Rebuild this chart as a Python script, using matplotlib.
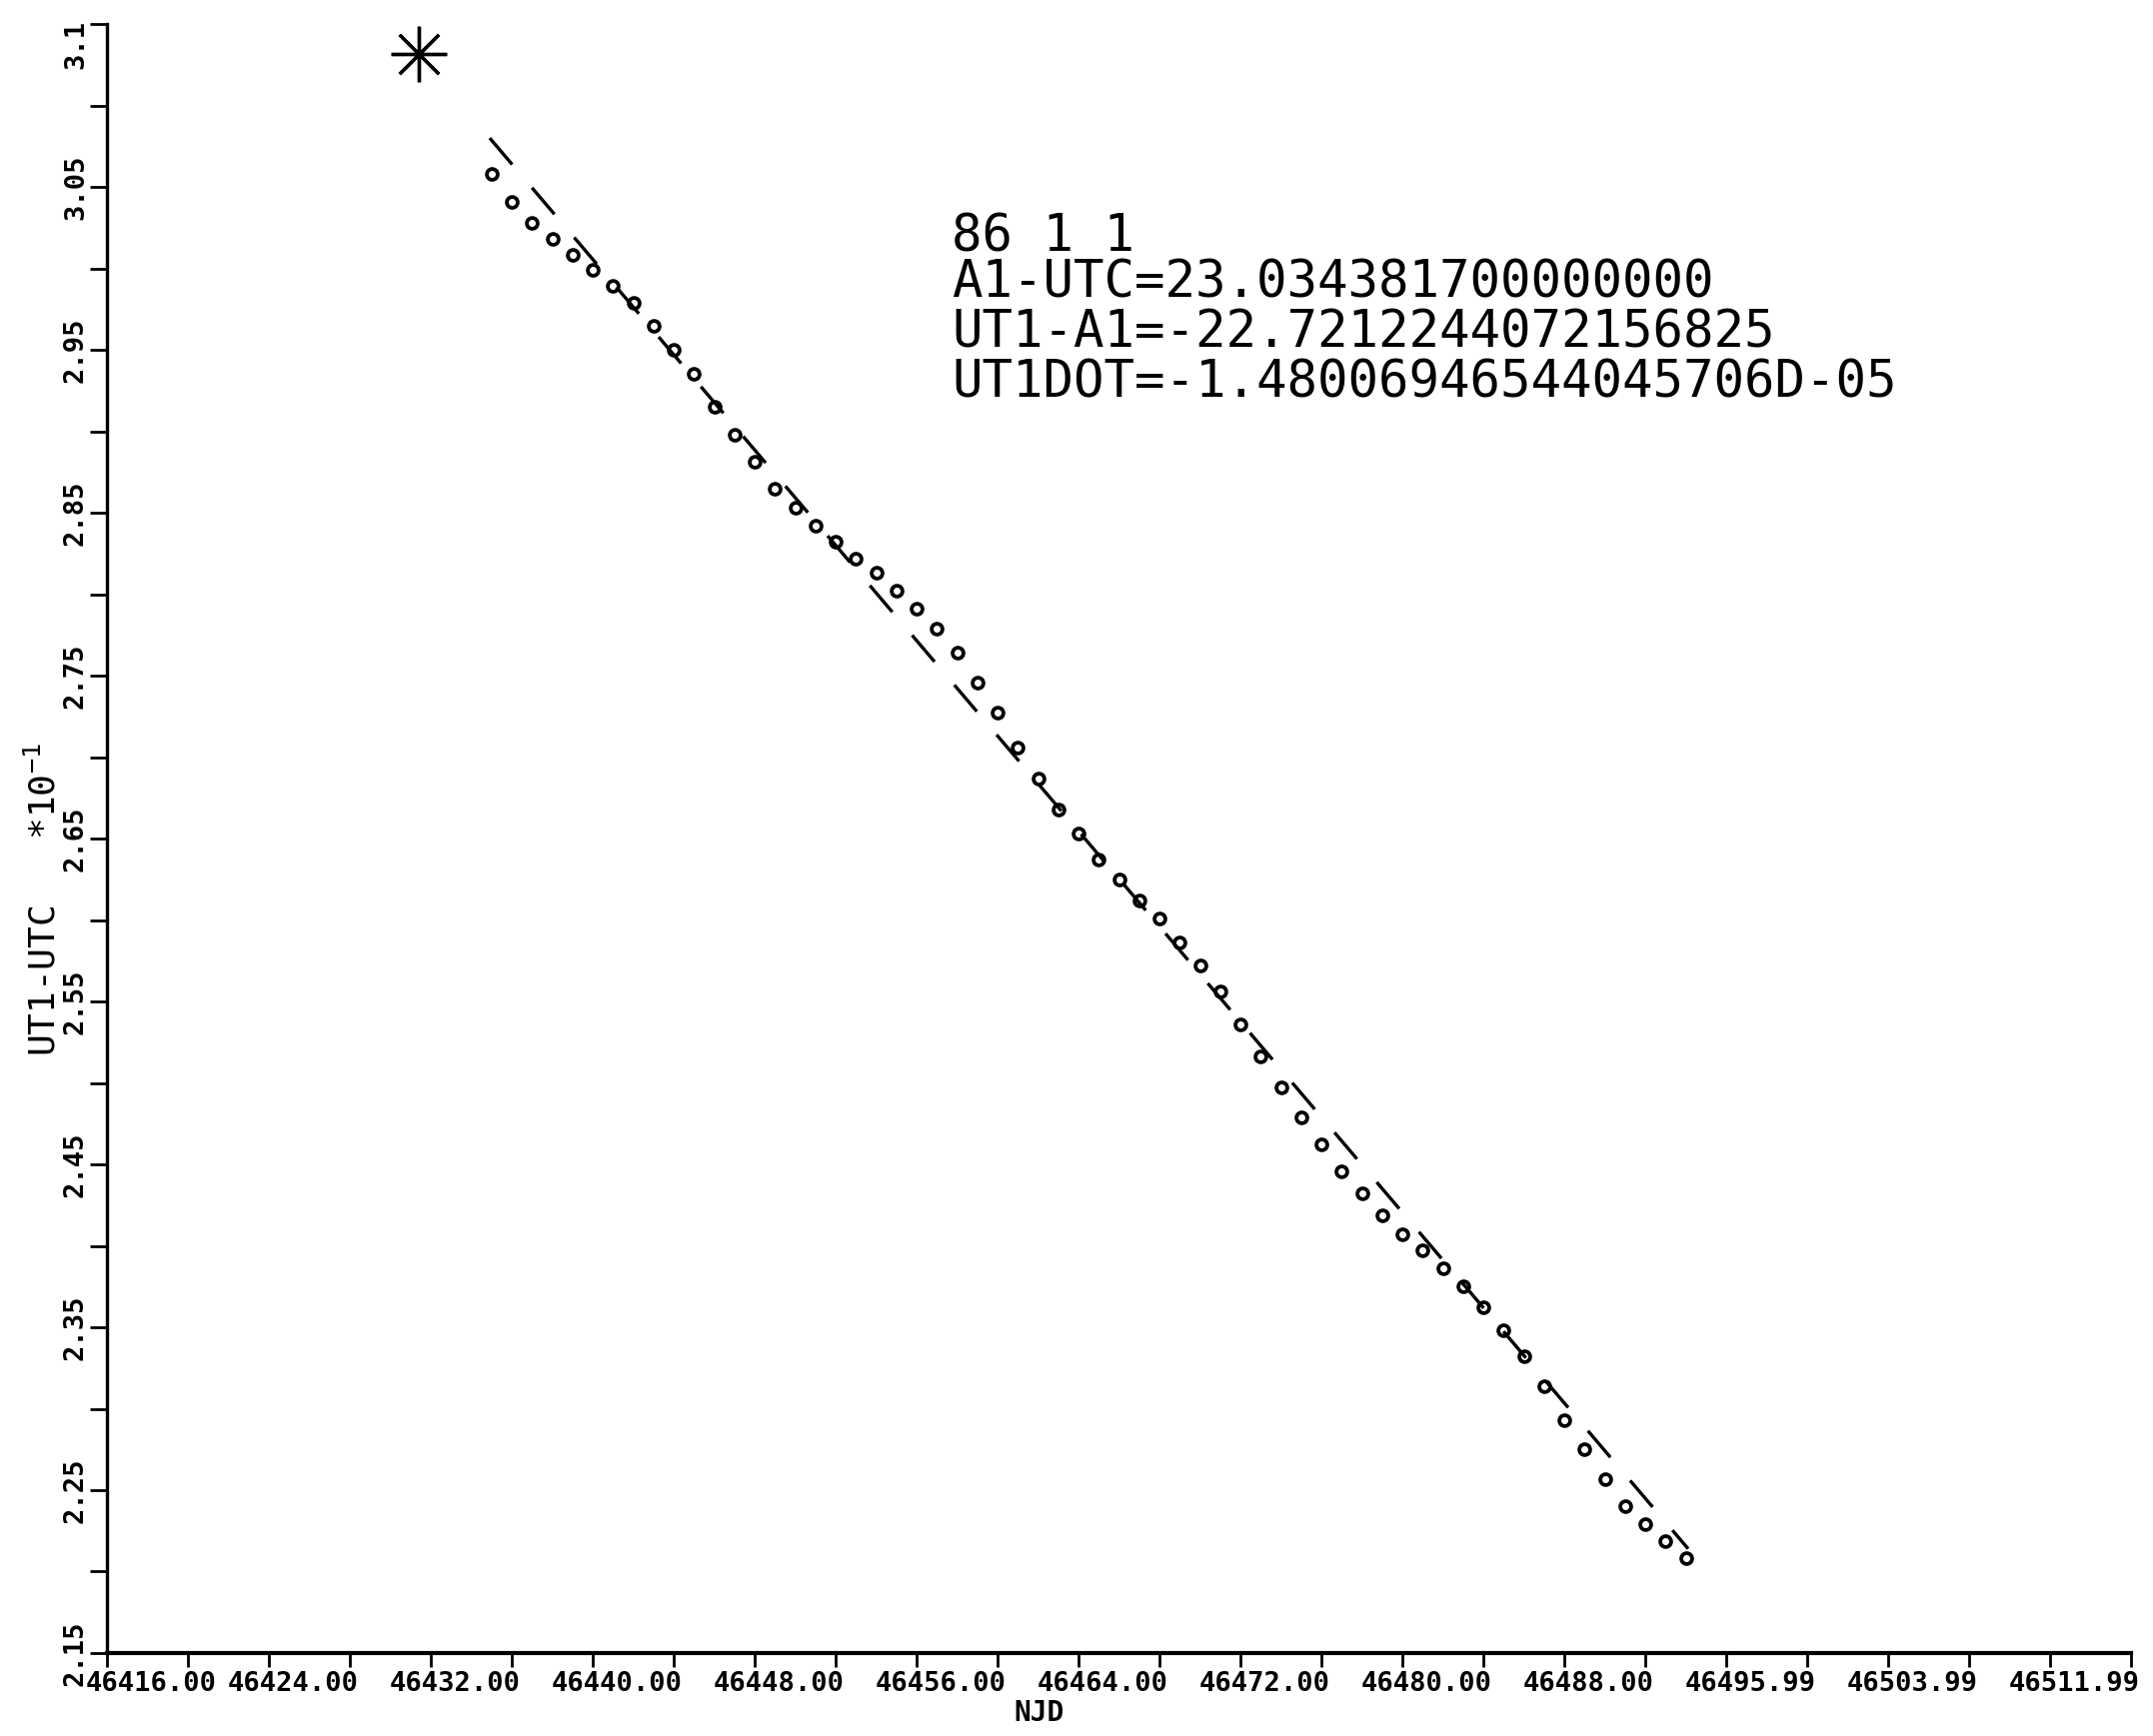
import matplotlib
matplotlib.use("Agg")
import matplotlib.pyplot as plt
import matplotlib.transforms as mtransforms
from matplotlib.ticker import FixedLocator, FixedFormatter, NullFormatter

# ---------------- data ----------------
mjd = [46435, 46436, 46437, 46438, 46439, 46440, 46441, 46442, 46443, 46444,
       46445, 46446, 46447, 46448, 46449, 46450, 46451, 46452, 46453, 46454,
       46455, 46456, 46457, 46458, 46459, 46460, 46461, 46462, 46463, 46464,
       46465, 46466, 46467, 46468, 46469, 46470, 46471, 46472, 46473, 46474,
       46475, 46476, 46477, 46478, 46479, 46480, 46481, 46482, 46483, 46484,
       46485, 46486, 46487, 46488, 46489, 46490, 46491, 46492, 46493, 46494]
ut1_utc = [3.058, 3.041, 3.028, 3.018, 3.008, 2.999, 2.989, 2.979, 2.965, 2.950,
           2.935, 2.915, 2.898, 2.881, 2.865, 2.853, 2.842, 2.832, 2.822, 2.813,
           2.802, 2.791, 2.779, 2.764, 2.746, 2.727, 2.706, 2.687, 2.668, 2.653,
           2.637, 2.625, 2.612, 2.601, 2.586, 2.572, 2.556, 2.536, 2.516, 2.497,
           2.479, 2.462, 2.446, 2.432, 2.419, 2.407, 2.397, 2.386, 2.375, 2.362,
           2.348, 2.332, 2.314, 2.293, 2.275, 2.257, 2.240, 2.229, 2.219, 2.208]

fit_mjd = [46434.91, 46494.12]
fit_val = [3.080, 2.214]

epoch_mjd = [46431.4]
epoch_val = [3.1316]

x_major = [46416, 46424, 46432, 46440, 46448, 46456, 46464,
           46472, 46480, 46488, 46496, 46504, 46512]
x_major_labels = ["46416.00", "46424.00", "46432.00", "46440.00", "46448.00",
                  "46456.00", "46464.00", "46472.00", "46480.00", "46488.00",
                  "46495.99", "46503.99", "46511.99"]
x_minor = [46420, 46428, 46436, 46444, 46452, 46460, 46468,
           46476, 46484, 46492, 46500, 46508, 46516]

y_major = [2.15, 2.25, 2.35, 2.45, 2.55, 2.65, 2.75, 2.85, 2.95, 3.05, 3.15]
y_major_labels = ["2.15", "2.25", "2.35", "2.45", "2.55", "2.65",
                  "2.75", "2.85", "2.95", "3.05", "3.1"]
y_minor = [2.20, 2.30, 2.40, 2.50, 2.60, 2.70, 2.80, 2.90, 3.00, 3.10]

x_range = [46416, 46516]
y_range = [2.15, 3.15]

annotation_lines = ["86 1 1",
                    "A1-UTC=23.034381700000000",
                    "UT1-A1=-22.7212244072156825",
                    "UT1DOT=-1.48006946544045706D-05"]
x_title = "NJD"
y_title = "UT1-UTC   *10$^{-1}$"

# ---------------- style ----------------
plt.rcParams["lines.scale_dashes"] = False
plt.rcParams["mathtext.fontset"] = "custom"
plt.rcParams["mathtext.rm"] = "DejaVu Sans Mono"
plt.rcParams["mathtext.default"] = "rm"

W, H, DPI = 2154, 1737, 100
fig = plt.figure(figsize=(W / DPI, H / DPI), dpi=DPI, facecolor="white")

L, R, T, B = 107, 2132, 24, 1654   # axes box in pixels
ax = fig.add_axes([L / W, 1 - B / H, (R - L) / W, (B - T) / H])
ax.set_facecolor("white")

ax.plot(fit_mjd, fit_val, color="black", lw=2.4,
        linestyle=(0, (25, 22)), solid_capstyle="butt", dash_capstyle="butt",
        zorder=2)
ax.plot(mjd, ut1_utc, linestyle="none", marker="o", ms=7.8,
        mfc="none", mec="black", mew=2.7, zorder=3)
ax.plot(epoch_mjd, epoch_val, linestyle="none", marker=(8, 2, 0), ms=40,
        mec="black", mew=2.4, zorder=3)

ax.set_xlim(*x_range)
ax.set_ylim(*y_range)

for s in ["top", "right"]:
    ax.spines[s].set_visible(False)
ax.spines["left"].set_linewidth(2.4)
ax.spines["bottom"].set_linewidth(3.0)

ax.xaxis.set_major_locator(FixedLocator(x_major))
ax.xaxis.set_major_formatter(FixedFormatter(x_major_labels))
ax.xaxis.set_minor_locator(FixedLocator(x_minor))
ax.xaxis.set_minor_formatter(NullFormatter())
ax.yaxis.set_major_locator(FixedLocator(y_major))
ax.yaxis.set_major_formatter(FixedFormatter(y_major_labels))
ax.yaxis.set_minor_locator(FixedLocator(y_minor))
ax.yaxis.set_minor_formatter(NullFormatter())

ax.tick_params(axis="x", which="both", direction="out", length=10, width=2.0,
               pad=3, color="black")
ax.tick_params(axis="y", which="both", direction="out", length=12, width=2.0,
               pad=1, color="black")

tick_font = dict(family="DejaVu Sans Mono", weight="bold", size=19.5)
for lab in ax.get_xticklabels():
    lab.set_fontproperties(matplotlib.font_manager.FontProperties(**tick_font))
for lab in ax.get_yticklabels():
    lab.set_fontproperties(matplotlib.font_manager.FontProperties(**tick_font))
    lab.set_rotation(90)
    lab.set_va("center")

# plotter-style label placement
for i, lab in enumerate(ax.get_xticklabels()):
    dx = 0.44 if i == 0 else 0.24
    lab.set_transform(lab.get_transform() +
                      mtransforms.ScaledTranslation(dx, 0, fig.dpi_scale_trans))
ylabs = ax.get_yticklabels()
ylabs[-1].set_transform(ylabs[-1].get_transform() +
                        mtransforms.ScaledTranslation(0, -0.2, fig.dpi_scale_trans))

# axis titles
fig.text(1040 / W, 1 - 1714 / H, x_title, ha="center", va="center",
         family="DejaVu Sans Mono", weight="bold", size=20)
fig.text(44 / W, 1 - 900 / H, y_title, ha="center", va="center", rotation=90,
         family="DejaVu Sans Mono", size=26)

# annotation block
baselines = [251, 298, 347, 398]
for line, yb in zip(annotation_lines, baselines):
    fig.text(952 / W, 1 - yb / H, line, ha="left", va="baseline",
             family="DejaVu Sans Mono", size=36.5, color="black")

fig.savefig("out.png", dpi=DPI, facecolor="white")
